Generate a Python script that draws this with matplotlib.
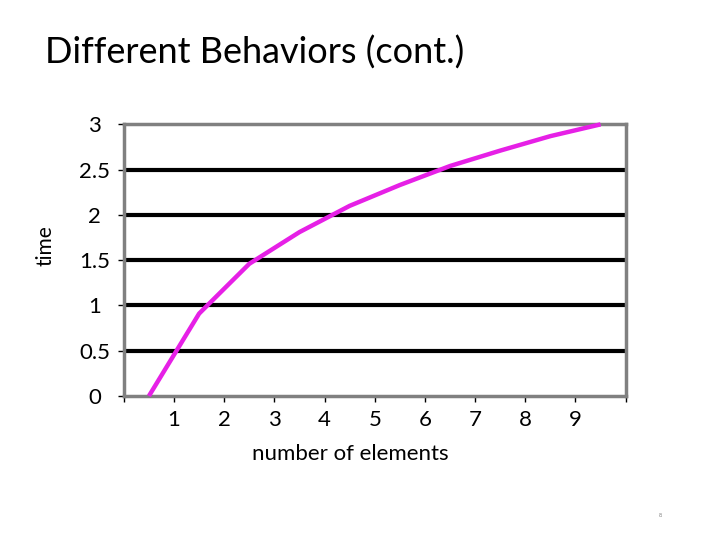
import matplotlib
matplotlib.use("Agg")
import matplotlib.pyplot as plt

plt.rcParams['font.family'] = ['Lato', 'DejaVu Sans']

x_positions = [0.5, 1.5, 2.5, 3.5, 4.5, 5.5, 6.5, 7.5, 8.5, 9.5]
time_values = [0, 0.91, 1.46, 1.81, 2.1, 2.33, 2.54, 2.71, 2.87, 3.0]
x_ticks = [0, 1, 2, 3, 4, 5, 6, 7, 8, 9, 10]
x_tick_labels = ['', '1', '2', '3', '4', '5', '6', '7', '8', '9', '']
y_ticks = [0, 0.5, 1, 1.5, 2, 2.5, 3]
y_tick_labels = ['0', '0.5', '1', '1.5', '2', '2.5', '3']

fig = plt.figure(figsize=(7.2, 5.4), dpi=100)
fig.patch.set_facecolor('white')
ax = fig.add_axes([0.172, 0.2667, 0.697, 0.503])

for yv in y_ticks[1:-1]:
    ax.axhline(yv, color='black', lw=3, zorder=1)

ax.plot(x_positions, time_values, color='#E620E6', lw=3.2, zorder=3,
        solid_capstyle='butt', clip_on=False)

ax.set_xlim(0, 10)
ax.set_ylim(0, 3)
ax.set_xticks(x_ticks)
ax.set_xticklabels(x_tick_labels, fontsize=16)
ax.set_yticks(y_ticks)
ax.set_yticklabels(y_tick_labels, fontsize=16, ha='center')
ax.tick_params(axis='x', length=4, width=1, color='black', pad=6)
ax.tick_params(axis='y', length=4, width=1, color='black', pad=17)
for side in ['top', 'right', 'left', 'bottom']:
    ax.spines[side].set_color('#808080')
    ax.spines[side].set_linewidth(2.5)

ax.set_xlabel('number of elements', fontsize=16, labelpad=10, x=0.452)
fig.text(0.063, 0.545, 'time', rotation=90, fontsize=15, ha='center', va='center')

fig.text(0.0625, 0.903, 'Different Behaviors (cont.)', fontsize=26, ha='left', va='center')
fig.text(0.917, 0.045, '8', fontsize=4, color='#808080', ha='center', va='center')

fig.savefig('out.png', dpi=100, facecolor='white')
